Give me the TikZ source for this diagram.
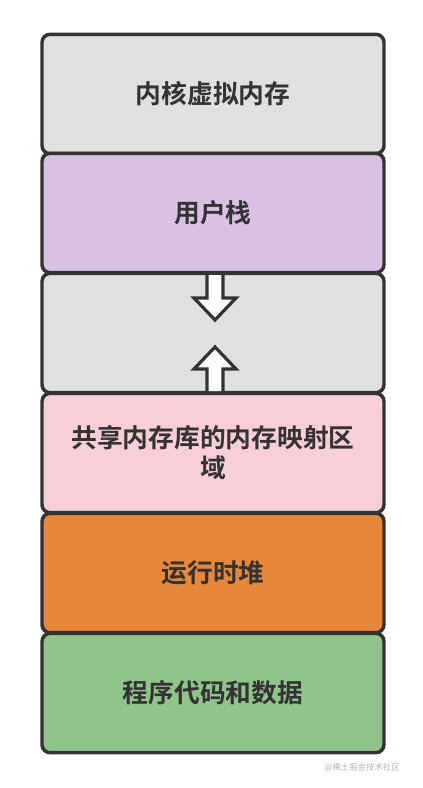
\documentclass[tikz,border=0pt]{standalone}
\usepackage{fontspec}
\newfontfamily\cjk{Noto Sans CJK SC}
\newfontfamily\cjkb{Noto Sans CJK SC Bold}
\usetikzlibrary{positioning}
\definecolor{edge}{HTML}{333333}
\definecolor{cgray}{HTML}{E0E0E0}
\definecolor{cpurple}{HTML}{D9C1E4}
\definecolor{cpink}{HTML}{F8CFD6}
\definecolor{corange}{HTML}{E6873A}
\definecolor{cgreen}{HTML}{8FC48B}
\tikzset{
  seg/.style={draw=edge, line width=2.6pt, rounded corners=6pt, minimum width=256.5pt, minimum height=89.5pt, inner sep=0pt, font=\cjkb\fontsize{19.3}{22.5}\selectfont, text=edge, align=center},
  blockarrow/.style={draw=edge, fill=white, line width=2.4pt, line join=miter}
}
\begin{document}
\begin{tikzpicture}[x=0.75pt,y=-0.75pt]
\useasboundingbox (0,0) rectangle (422,788);
\node[seg, fill=cgray]   (k) at (213,94)  {\raisebox{-1.5pt}{内核虚拟内存}};
\node[seg, fill=cpurple] (u) at (213,213) {\raisebox{-1.5pt}{用户栈}};
\node[seg, fill=cgray]   (g) at (213,333) {};
\node[seg, fill=cpink]   (s) at (213,453) {\raisebox{-1.5pt}{共享内存库的内存映射区}\\\raisebox{-1.5pt}{域}};
\node[seg, fill=corange] (h) at (213,573) {\raisebox{-1.5pt}{运行时堆}};
\node[seg, fill=cgreen]  (p) at (213,693) {\raisebox{-1.5pt}{程序代码和数据}};
% down arrow
\draw[blockarrow] (207,275) -- (207,298) -- (194,298) -- (215,320) -- (236,298) -- (223,298) -- (223,275);
% up arrow
\draw[blockarrow] (207,391) -- (207,369) -- (194,369) -- (215,347) -- (236,369) -- (223,369) -- (223,391);
\node[font=\cjk\fontsize{6.3}{8}\selectfont, text=gray!60, anchor=east, inner sep=0pt] (w) at (400,768) {@稀土掘金技术社区};
\end{tikzpicture}
\end{document}
